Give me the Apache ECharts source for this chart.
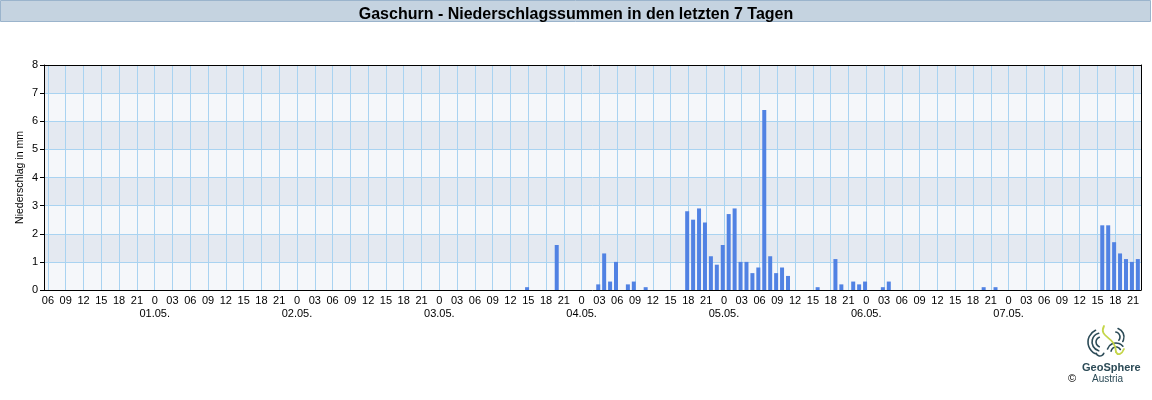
<!DOCTYPE html>
<html>
<head>
<meta charset="utf-8">
<script src="https://cdn.jsdelivr.net/npm/echarts@6/dist/echarts.min.js"></script>
<style>
html, body { margin: 0; padding: 0; background: #fff; }
#chart { width: 1152px; height: 400px; }
</style>
</head>
<body>
<div id="chart"></div>
<script>
// Day labels, one per calendar day covered by the time axis (first = 30.04.)
const dayLabels = ['30.04.', '01.05.', '02.05.', '03.05.', '04.05.', '05.05.', '06.05.', '07.05.'];

// Hourly precipitation sums, each stamped with the end of its hour ("DD.MM. HH")
const rainEnd = [
  '03.05. 15', '03.05. 20',
  '04.05. 03', '04.05. 04', '04.05. 05', '04.05. 06', '04.05. 08', '04.05. 09', '04.05. 11',
  '04.05. 18', '04.05. 19', '04.05. 20', '04.05. 21', '04.05. 22', '04.05. 23',
  '05.05. 00', '05.05. 01', '05.05. 02', '05.05. 03', '05.05. 04', '05.05. 05',
  '05.05. 06', '05.05. 07', '05.05. 08', '05.05. 09', '05.05. 10', '05.05. 11',
  '05.05. 16', '05.05. 19', '05.05. 20', '05.05. 22', '05.05. 23',
  '06.05. 00', '06.05. 03', '06.05. 04', '06.05. 20', '06.05. 22',
  '07.05. 16', '07.05. 17', '07.05. 18', '07.05. 19', '07.05. 20', '07.05. 21', '07.05. 22'
];
const rainMm = [
  0.1, 1.6,
  0.2, 1.3, 0.3, 1.0, 0.2, 0.3, 0.1,
  2.8, 2.5, 2.9, 2.4, 1.2, 0.9,
  1.6, 2.7, 2.9, 1.0, 1.0, 0.6,
  0.8, 6.4, 1.2, 0.6, 0.8, 0.5,
  0.1, 1.1, 0.2, 0.3, 0.2,
  0.3, 0.1, 0.3, 0.1, 0.1,
  2.3, 2.3, 1.7, 1.3, 1.1, 1.0, 1.1
];

// Y axis ticks (mm)
const yTicks = [0, 1, 2, 3, 4, 5, 6, 7, 8];

// Time axis range in hours since 30.04. 00:00 (05:20 .. 7 days later 22:20)
const axisStart = 5 + 1 / 3;
const axisEnd = 190 + 1 / 3;
const barShift = -0.2; // each bar sits just before the end of its hour

function hourOf(stamp) {
  const d = dayLabels.indexOf(stamp.slice(0, 6));
  return d * 24 + Number(stamp.slice(7));
}

const barData = rainEnd.map((s, i) => [hourOf(s) + barShift, rainMm[i]]);

const FONT = '"Liberation Sans", Arial, sans-serif';
const GRID_BLUE = '#a9d3f1';

const chart = echarts.init(document.getElementById('chart'), null, { renderer: 'canvas' });

// GeoSphere mark: contour-like arcs plus a lime stroke
const logoDark = '#2c4b57';
const logoLime = '#c5d64a';
function arc(cx, cy, r, a0, a1, color, w) {
  return {
    type: 'arc', silent: true,
    shape: { cx: cx, cy: cy, r: r, startAngle: a0 * Math.PI / 180, endAngle: a1 * Math.PI / 180 },
    style: { stroke: color, lineWidth: w || 1.6, fill: null, lineCap: 'round' }
  };
}

chart.setOption({
  animation: false,
  textStyle: { fontFamily: FONT },
  title: {
    text: 'Gaschurn - Niederschlagssummen in den letzten 7 Tagen',
    left: 'center',
    top: 2,
    textStyle: { fontFamily: FONT, fontSize: 16, fontWeight: 'bold', color: '#000' }
  },
  graphic: [
    {
      type: 'rect', z: -10, silent: true,
      shape: { x: 0.5, y: 0.5, width: 1150, height: 21 },
      style: { fill: '#c5d3e0', stroke: '#9bb4cc', lineWidth: 1 }
    },
    // logo lines
    arc(1101, 342, 5, 110, 250, logoDark),
    arc(1101, 342, 9, 105, 255, logoDark),
    arc(1101, 342, 13, 115, 245, logoDark),
    arc(1115, 337, 5, -80, 40, logoDark),
    arc(1115, 337, 9, -70, 30, logoDark),
    arc(1116, 352, 5, 190, 330, logoDark),
    arc(1116, 352, 9, 200, 320, logoDark),
    arc(1100, 352, 4, 20, 160, logoDark),
    {
      type: 'bezierCurve', silent: true,
      shape: { x1: 1104, y1: 326, x2: 1116, y2: 352, cpx1: 1098, cpy1: 338, cpx2: 1116, cpy2: 336 },
      style: { stroke: logoLime, lineWidth: 1.8, fill: null, lineCap: 'round' }
    },
    {
      type: 'bezierCurve', silent: true,
      shape: { x1: 1116, y1: 352, x2: 1124, y2: 349, cpx1: 1118, cpy1: 356, cpx2: 1122, cpy2: 354 },
      style: { stroke: logoLime, lineWidth: 1.8, fill: null, lineCap: 'round' }
    },
    {
      type: 'text', silent: true, left: 1082, top: 362,
      style: { text: 'GeoSphere', font: 'bold 11px ' + FONT, fill: logoDark }
    },
    {
      type: 'text', silent: true, left: 1092, top: 374,
      style: { text: 'Austria', font: '10px ' + FONT, fill: logoDark }
    },
    {
      type: 'text', silent: true, left: 1068, top: 373,
      style: { text: '\u00a9', font: '11px ' + FONT, fill: '#000' }
    }
  ],
  grid: { left: 44, right: 11, top: 65, bottom: 110 },
  xAxis: [
    {
      type: 'value',
      min: axisStart,
      max: axisEnd,
      splitNumber: 62,
      minInterval: 3,
      maxInterval: 3,
      axisLine: { show: true, onZero: false, lineStyle: { color: '#000', width: 1 } },
      axisTick: { show: false },
      splitLine: { show: true, lineStyle: { color: GRID_BLUE, width: 1 } },
      axisLabel: {
        show: true,
        showMinLabel: false,
        showMaxLabel: false,
        margin: 4,
        fontSize: 11,
        lineHeight: 13,
        color: '#000',
        fontFamily: FONT,
        formatter: function (v) {
          const r = Math.round(v);
          if (Math.abs(v - r) > 1e-6 || r % 3 !== 0) return '';
          const h = r % 24;
          if (h === 0) return '0\n' + dayLabels[r / 24];
          return String(h).padStart(2, '0');
        }
      }
    },
    {
      type: 'value', position: 'top', min: axisStart, max: axisEnd,
      axisLine: { show: true, onZero: false, lineStyle: { color: '#000', width: 1 } },
      axisTick: { show: false }, axisLabel: { show: false }, splitLine: { show: false }
    }
  ],
  yAxis: [
    {
      type: 'value',
      min: yTicks[0],
      max: yTicks[yTicks.length - 1],
      interval: 1,
      name: 'Niederschlag in mm',
      nameLocation: 'middle',
      nameGap: 18,
      nameMoveOverlap: false,
      nameTextStyle: { fontSize: 10.5, color: '#000', fontFamily: FONT },
      axisLine: { show: true, lineStyle: { color: '#000', width: 1 } },
      axisTick: { show: true, length: 4, lineStyle: { color: '#000' } },
      axisLabel: { margin: 6, fontSize: 11, color: '#000', fontFamily: FONT },
      splitLine: { show: true, lineStyle: { color: GRID_BLUE, width: 1 } },
      splitArea: { show: true, areaStyle: { color: ['#f5f7fa', '#e4e9f1'] } }
    },
    {
      type: 'value', position: 'right', min: 0, max: 8,
      axisLine: { show: true, lineStyle: { color: '#000', width: 1 } },
      axisTick: { show: false }, axisLabel: { show: false }, splitLine: { show: false }
    }
  ],
  series: [
    {
      type: 'bar',
      xAxisIndex: 0,
      yAxisIndex: 0,
      data: barData,
      barWidth: 4,
      itemStyle: { color: '#5182e3' },
      z: 3
    }
  ]
});
</script>
</body>
</html>
